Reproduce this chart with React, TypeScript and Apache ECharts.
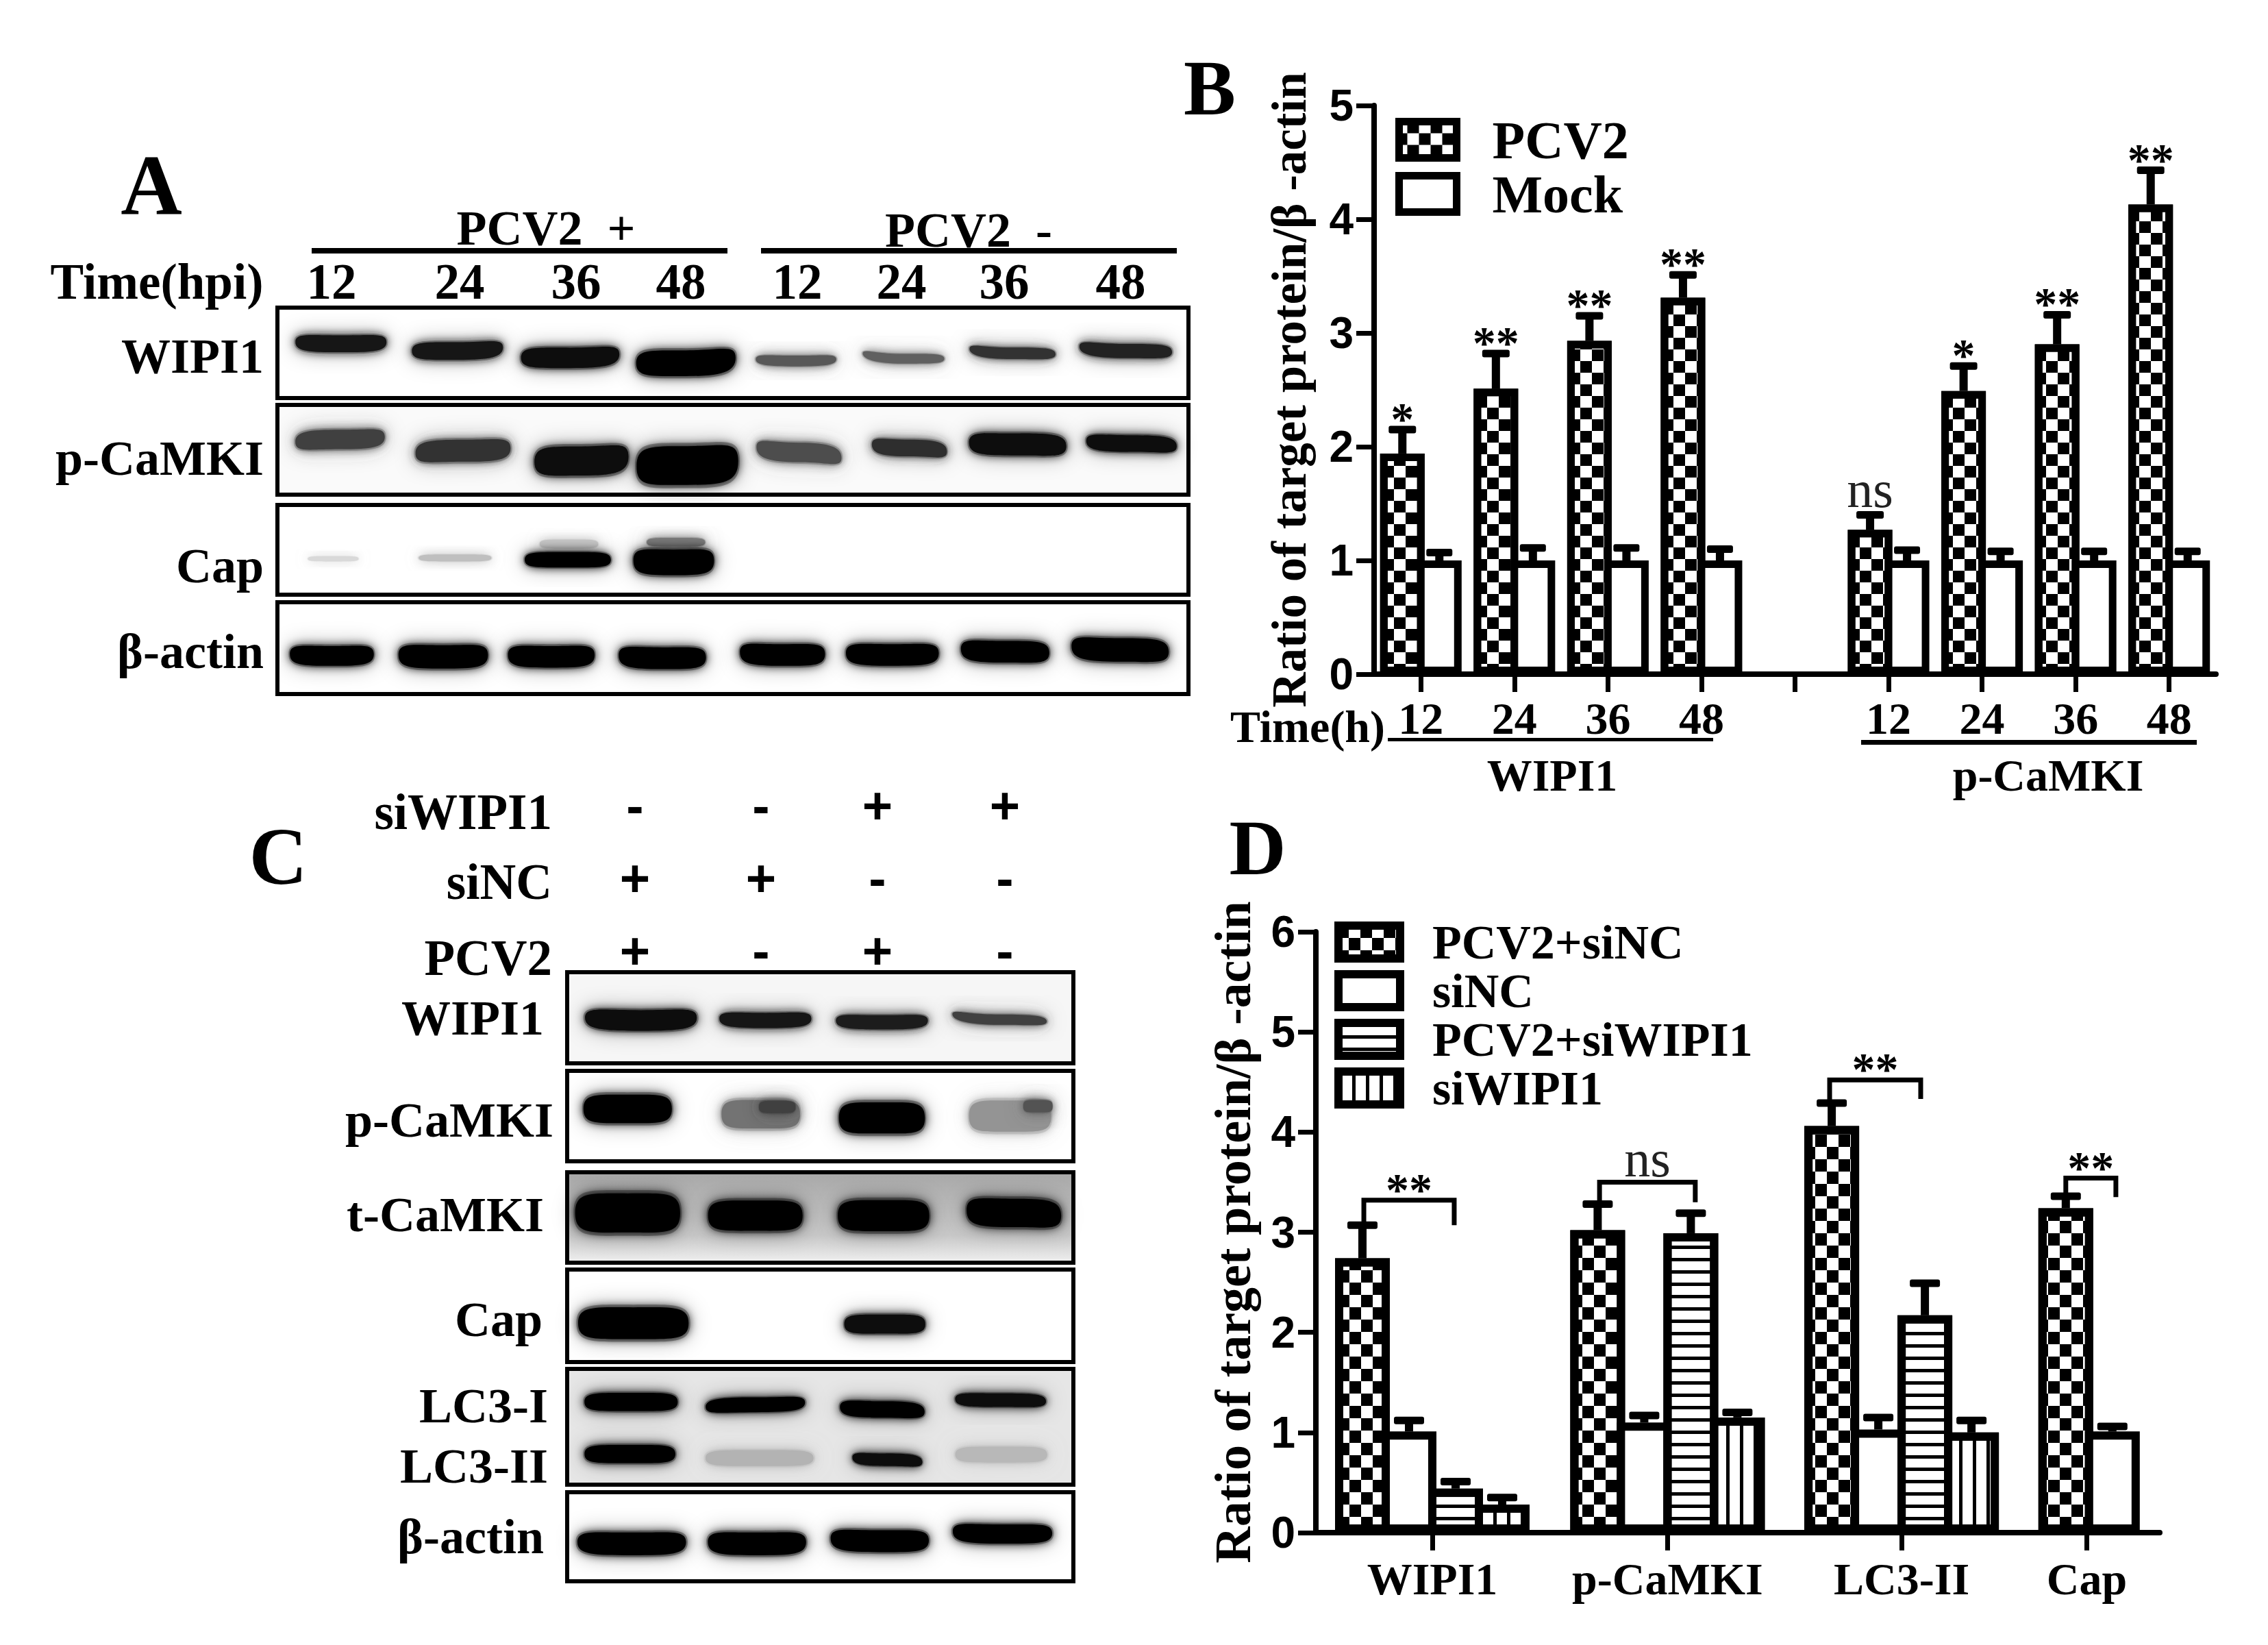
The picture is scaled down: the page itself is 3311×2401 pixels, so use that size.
import React, { useEffect, useRef } from "react";
import * as echarts from "echarts";

// ---------- Panel B data ----------
const bCats = ["12", "24", "36", "48", "", "12", "24", "36", "48"];
const bPcv2 = [1.94, 2.51, 2.93, 3.31, null, 1.27, 2.49, 2.9, 4.13];
const bPcv2Err = [2.15, 2.82, 3.15, 3.51, null, 1.4, 2.71, 3.16, 4.43];
const bMock = [1, 1, 1, 1, null, 1, 1, 1, 1];
const bMockErr = [1.07, 1.11, 1.11, 1.1, null, 1.09, 1.08, 1.08, 1.08];
const bMarks = ["*", "**", "**", "**", "", "ns", "*", "**", "**"];

// ---------- Panel D data ----------
const dCats = ["WIPI1", "p-CaMKI", "LC3-II", "Cap"];
const dPos = [0.5, 1.51, 2.515, 3.52];
const dTicks = [0.5, 1.51, 2.515, 3.31];
const dS1 = [2.74, 3.02, 4.06, 3.24];
const dS1Err = [3.07, 3.28, 4.29, 3.36];
const dS2 = [1.01, 1.1, 1.03, 1.01];
const dS2Err = [1.12, 1.17, 1.15, 1.06];
const dS3 = [0.44, 2.99, 2.17];
const dS3Err = [0.51, 3.19, 2.49];
const dS4 = [0.28, 1.15, 1.0];
const dS4Err = [0.35, 1.2, 1.12];
// x0, x1, top, left leg end, right leg end
const dBrackets = [
  [0.206, 0.594, 3.32, 3.09, 3.07],
  [1.218, 1.629, 3.5, 3.3, 3.3],
  [2.206, 2.597, 4.52, 4.28, 4.33],
  [3.22, 3.435, 3.54, 3.38, 3.35],
];
const dBracketMarks = ["**", "ns", "**", "**"];

// ---------- Western blot densitometry read-offs ----------
// lane centre, vertical centre (0-1), lane width, thickness (0-1), grey level (0 black), tilt, sag
const aWipi = [
  [0.558, 0.38, 0.825, 0.19, 0.08, 0, 0.02],
  [1.581, 0.46, 0.825, 0.2, 0.08, -0.02, 0.02],
  [2.571, 0.535, 0.89, 0.23, 0.06, -0.02, 0.02],
  [3.587, 0.585, 0.9, 0.29, 0.02, -0.03, 0.03],
  [4.554, 0.57, 0.73, 0.12, 0.35, 0, 0.02],
  [5.498, 0.535, 0.74, 0.11, 0.38, 0.03, 0.03],
  [6.455, 0.485, 0.78, 0.13, 0.2, 0.03, 0.02],
  [7.449, 0.46, 0.84, 0.16, 0.14, 0.03, 0.02],
];
const aCamki = [
  [0.55, 0.385, 0.81, 0.22, 0.25, -0.03, 0],
  [1.63, 0.51, 0.86, 0.25, 0.2, -0.03, 0],
  [2.67, 0.605, 0.85, 0.33, 0.03, -0.03, 0.02],
  [3.6, 0.655, 0.92, 0.44, 0, -0.03, 0.02],
  [4.58, 0.53, 0.77, 0.22, 0.3, 0.06, 0],
  [5.55, 0.48, 0.68, 0.19, 0.18, 0.04, 0],
  [6.5, 0.44, 0.88, 0.25, 0.03, 0.02, 0],
  [7.5, 0.43, 0.82, 0.19, 0.05, 0.03, 0],
];
const aCap = [
  [0.49, 0.6, 0.46, 0.06, 0.85, 0, 0],
  [1.56, 0.59, 0.66, 0.08, 0.75, 0, 0],
  [2.56, 0.435, 0.53, 0.1, 0.8, 0, 0],
  [3.5, 0.415, 0.53, 0.1, 0.5, 0, 0],
  [2.55, 0.61, 0.78, 0.175, 0.02, 0, 0],
  [3.48, 0.62, 0.73, 0.29, 0, 0, 0.02],
];
const aActin = [
  [0.478, 0.565, 0.76, 0.22, 0.01, 0, 0.02],
  [1.456, 0.575, 0.81, 0.26, 0.01, 0, 0.02],
  [2.405, 0.575, 0.785, 0.24, 0.01, 0, 0.02],
  [3.38, 0.59, 0.79, 0.24, 0.01, 0.01, 0.02],
  [4.435, 0.555, 0.77, 0.24, 0.01, 0.01, 0.02],
  [5.4, 0.555, 0.84, 0.24, 0.01, 0, 0.02],
  [6.39, 0.53, 0.8, 0.24, 0.01, 0.02, 0.01],
  [7.4, 0.51, 0.88, 0.26, 0.01, 0.03, 0.01],
];
const cWipi = [
  [0.583, 0.5, 0.91, 0.23, 0.03, 0, 0.03],
  [1.566, 0.51, 0.75, 0.17, 0.08, 0, 0.02],
  [2.487, 0.53, 0.75, 0.16, 0.1, 0, 0.02],
  [3.417, 0.5, 0.77, 0.115, 0.25, 0.04, 0.02],
];
const cCamki = [
  [0.478, 0.42, 0.72, 0.32, 0, 0, 0],
  [1.53, 0.48, 0.64, 0.32, 0.45, 0, 0],
  [1.66, 0.4, 0.3, 0.14, 0.25, 0, 0],
  [2.487, 0.52, 0.7, 0.35, 0.02, 0, 0],
  [3.5, 0.5, 0.67, 0.35, 0.58, 0, 0],
  [3.72, 0.39, 0.24, 0.14, 0.32, 0, 0],
];
const cTotal = [
  [0.478, 0.45, 0.855, 0.44, 0, 0, 0],
  [1.487, 0.48, 0.77, 0.34, 0, 0, 0],
  [2.5, 0.48, 0.745, 0.35, 0, 0, 0],
  [3.53, 0.45, 0.77, 0.32, 0, 0.03, 0],
];
const cCap = [
  [0.523, 0.58, 0.9, 0.35, 0, 0, 0],
  [2.51, 0.59, 0.66, 0.21, 0.04, 0, 0],
];
const cLc3 = [
  [0.505, 0.286, 0.76, 0.16, 0, 0, 0],
  [1.487, 0.31, 0.81, 0.13, 0, -0.02, 0],
  [2.49, 0.35, 0.69, 0.145, 0, 0.02, 0],
  [3.425, 0.27, 0.74, 0.12, 0.03, 0.01, 0],
  [0.496, 0.735, 0.74, 0.16, 0.02, 0, 0],
  [1.52, 0.77, 0.88, 0.14, 0.7, 0, 0],
  [2.53, 0.785, 0.57, 0.11, 0.05, 0.02, 0],
  [3.43, 0.74, 0.75, 0.14, 0.72, 0, 0],
];
const cActin = [
  [0.51, 0.56, 0.885, 0.26, 0, 0, 0.02],
  [1.5, 0.56, 0.8, 0.26, 0, 0, 0.02],
  [2.47, 0.53, 0.8, 0.25, 0, 0.01, 0.02],
  [3.44, 0.45, 0.81, 0.22, 0, 0.01, 0.02],
];

// ---------- text ----------
const aRowLabels = ["WIPI1", "p-CaMKI", "Cap", "β-actin"];
const aTimes = ["12", "24", "36", "48", "12", "24", "36", "48"];
const cRowLabels = ["WIPI1", "p-CaMKI", "t-CaMKI", "Cap", "LC3-I", "LC3-II", "β-actin"];
const cTreatments = ["siWIPI1", "siNC", "PCV2"];
const cSigns = [
  ["-", "-", "+", "+"],
  ["+", "+", "-", "-"],
  ["+", "-", "+", "-"],
];
const yName = "Ratio of target protein/β -actin";

const SERIF = '"Liberation Serif"';
const SANS = '"Liberation Sans"';

const base = { symbol: "rect", symbolSize: 1, color: "#000", backgroundColor: "#fff", rotation: 0 };
const checkerB = { ...base, dashArrayX: [[12, 17, 5, 0], [0, 12, 17, 5]], dashArrayY: [17, 0] };
const checkerD = { ...base, dashArrayX: [[0, 15, 17, 2], [15, 17, 2, 0]], dashArrayY: [18, 0] };
const hLines = { ...base, dashArrayX: [1, 0], dashArrayY: [5, 13] };
const vLines = { ...base, dashArrayX: [5, 15], dashArrayY: [1, 0] };

function bandSeries(data: number[][], xi: number) {
  return {
    type: "custom",
    xAxisIndex: xi,
    yAxisIndex: xi,
    silent: true,
    data,
    renderItem: (_p: any, api: any) => {
      const cx = api.value(0), cy = api.value(1), w = api.value(2), h = api.value(3);
      const g = api.value(4), tilt = api.value(5), sag = api.value(6);
      const shape = (gw: number, gh: number) => {
        const [x0] = api.coord([cx - (w * gw) / 2, cy]);
        const [x1, yb] = api.coord([cx + (w * gw) / 2, cy + (h * gh) / 2]);
        const [, yt] = api.coord([cx, cy - (h * gh) / 2]);
        const [, y1] = api.coord([cx, cy + tilt]);
        const [, y2] = api.coord([cx, cy - tilt]);
        const [, ys] = api.coord([cx, cy + (h * gh) / 2 + sag]);
        const [, yts] = api.coord([cx, cy - (h * gh) / 2 + sag]);
        const W = x1 - x0, H = yb - yt, xm = (x0 + x1) / 2;
        return `M${x0} ${y2}C${x0} ${y2 - H * 0.55} ${x0 + W * 0.14} ${yts} ${xm} ${yts}C${x1 - W * 0.14} ${yts} ${x1} ${y1 - H * 0.55} ${x1} ${y1}C${x1} ${y1 + H * 0.55} ${x1 - W * 0.14} ${ys} ${xm} ${ys}C${x0 + W * 0.14} ${ys} ${x0} ${y2 + H * 0.55} ${x0} ${y2}Z`;
      };
      const v = Math.round(g * 255);
      const col = `rgb(${v},${v},${v})`;
      return {
        type: "group",
        children: [
          { type: "path", shape: { pathData: shape(1.0, 1.15) }, style: { fill: col, opacity: 0.3, shadowBlur: 30, shadowColor: col } },
          { type: "path", shape: { pathData: shape(0.97, 0.98) }, style: { fill: col, shadowBlur: 14, shadowColor: col } },
        ],
      };
    },
  };
}

const errSeries = (xs: any[], tops: any[], bases: any[], off: number, cap: number, marks: string[] | null, xi: number) => ({
  type: "custom",
  xAxisIndex: xi,
  yAxisIndex: xi,
  silent: true,
  z: 5,
  data: tops
    .map((t, i) => [xs[i], bases[i], t, i])
    .filter((r) => r[2] != null),
  renderItem: (_p: any, api: any) => {
    const xv = api.value(0), bv = api.value(1), top = api.value(2), idx = api.value(3);
    const [x, y0] = api.coord([xv, bv]);
    const [, y1] = api.coord([xv, top]);
    const px = x + off;
    const kids: any[] = [
      { type: "rect", shape: { x: px - 6, y: y1, width: 12, height: y0 - y1 }, style: { fill: "#000" } },
      { type: "rect", shape: { x: px - cap / 2, y: y1 - 5.5, width: cap, height: 11, r: 3 }, style: { fill: "#000" } },
    ];
    const m = marks ? marks[idx] : "";
    if (m) {
      const ns = m === "ns";
      kids.push({
        type: "text",
        style: {
          text: m,
          x: px,
          y: ns ? y1 - 38 : y1 - 16,
          textAlign: "center",
          textVerticalAlign: "middle",
          fill: ns ? "#222" : "#000",
          font: ns ? `76px ${SERIF}` : `bold 68px ${SERIF}`,
        },
      });
    }
    return { type: "group", children: kids };
  },
});

function App() {
  const ref = useRef<HTMLDivElement>(null);
  useEffect(() => {
    document.body.style.margin = "0";
    document.body.style.background = "#fff";
    const chart = echarts.init(ref.current!, null, { renderer: "svg" });

    const BAR = { borderColor: "#000", borderWidth: 11, color: "#fff" };
    const BARD = { borderColor: "#000", borderWidth: 12, color: "#fff" };
    const grids: any[] = [
      { left: 2006, top: 154, width: 1229, height: 830, show: false },
      { left: 1921, top: 1360, width: 1232, height: 877, show: false },
    ];
    const axisLine = { show: true, onZero: false, lineStyle: { color: "#000", width: 8 } };
    const tick = { show: true, length: 26, lineStyle: { color: "#000", width: 7 } };
    const xAxes: any[] = [
      {
        gridIndex: 0,
        type: "category",
        data: bCats,
        axisLine,
        axisTick: { ...tick, alignWithLabel: true, interval: 0 },
        axisLabel: { interval: 0, margin: 31, color: "#000", fontFamily: SERIF, fontWeight: "bold", fontSize: 66 },
      },
      {
        gridIndex: 1,
        type: "value",
        min: 0,
        max: 3.6235,
        splitLine: { show: false },
        axisLine,
        axisTick: { ...tick, customValues: dTicks },
        axisLabel: {
          customValues: dTicks,
          margin: 34,
          color: "#000",
          fontFamily: SERIF,
          fontWeight: "bold",
          fontSize: 66,
          formatter: (v: number) => dCats[dTicks.indexOf(Number(v))] ?? "",
        },
      },
    ];
    const yAxis = (g: number, max: number, fs: number, gap: number) => ({
      gridIndex: g,
      type: "value",
      min: 0,
      max,
      interval: 1,
      name: yName,
      nameLocation: "middle",
      nameRotate: 90,
      nameGap: gap,
      nameMoveOverlap: false,
      nameTextStyle: { fontFamily: SERIF, fontWeight: "bold", fontSize: fs, color: "#000" },
      splitLine: { show: false },
      axisLine,
      axisTick: tick,
      axisLabel: { margin: 30, color: "#000", fontFamily: SANS, fontWeight: "bold", fontSize: 64 },
    });
    const yAxes: any[] = [yAxis(0, 5, 71, 89), yAxis(1, 6, 74, 84)];
    const bIdx = bCats.map((_, i) => i);
    const bBar = { type: "bar", xAxisIndex: 0, yAxisIndex: 0, barWidth: 65, barGap: "-16.9%" };
    const dBar = { type: "bar", xAxisIndex: 1, yAxisIndex: 1, barWidth: 80, barGap: "-15%" };
    const series: any[] = [
      { ...bBar, name: "PCV2", data: bPcv2, itemStyle: { ...BAR, decal: checkerB } },
      { ...bBar, name: "Mock", data: bMock, itemStyle: BAR },
      errSeries(bIdx, bPcv2Err, bPcv2, -27, 40, bMarks, 0),
      errSeries(bIdx, bMockErr, bMock, 27, 38, null, 0),
      { ...dBar, name: "PCV2+siNC", data: dS1.map((v, i) => [dPos[i], v]), itemStyle: { ...BARD, decal: checkerD } },
      { ...dBar, name: "siNC", data: dS2.map((v, i) => [dPos[i], v]), itemStyle: BARD },
      { ...dBar, name: "PCV2+siWIPI1", data: dS3.map((v, i) => [dPos[i], v]), itemStyle: { ...BARD, decal: hLines } },
      { ...dBar, name: "siWIPI1", data: dS4.map((v, i) => [dPos[i], v]), itemStyle: { ...BARD, decal: vLines } },
      errSeries(dPos, dS1Err, dS1, -102, 44, null, 1),
      errSeries(dPos, dS2Err, dS2, -34, 44, null, 1),
      errSeries(dPos.slice(0, 3), dS3Err, dS3, 34, 44, null, 1),
      errSeries(dPos.slice(0, 3), dS4Err, dS4, 102, 44, null, 1),
      {
        type: "custom",
        xAxisIndex: 1,
        yAxisIndex: 1,
        silent: true,
        z: 6,
        data: dBrackets.map((b, i) => [...b, i]),
        renderItem: (_p: any, api: any) => {
          const [x0, yt] = api.coord([api.value(0), api.value(2)]);
          const [x1] = api.coord([api.value(1), api.value(2)]);
          const [, yl] = api.coord([api.value(0), api.value(3)]);
          const [, yr] = api.coord([api.value(1), api.value(4)]);
          const label = dBracketMarks[api.value(5)];
          const ns = label === "ns";
          return {
            type: "group",
            children: [
              { type: "polyline", shape: { points: [[x0, yl], [x0, yt], [x1, yt], [x1, yr]] }, style: { stroke: "#000", lineWidth: 7, fill: "none" } },
              {
                type: "text",
                style: {
                  text: label,
                  x: (x0 + x1) / 2,
                  y: ns ? yt - 34 : yt - 16,
                  textAlign: "center",
                  textVerticalAlign: "middle",
                  fill: ns ? "#222" : "#000",
                  font: ns ? `76px ${SERIF}` : `bold 68px ${SERIF}`,
                },
              },
            ],
          };
        },
      },
    ];

    const totalBg = {
      type: "linear", x: 0, y: 0, x2: 0, y2: 1,
      colorStops: [
        { offset: 0, color: "#a8a8a8" },
        { offset: 0.7, color: "#c8c8c8" },
        { offset: 1, color: "#f0f0f0" },
      ],
    };
    // blot panels: x in lanes, y in fraction of the panel height
    const panels: [number[], number, number[][], any][] = [
      [[405, 449, 1330, 132], 8, aWipi, "#fff"],
      [[405, 591, 1330, 131], 8, aCamki, "#fafafa"],
      [[405, 737, 1330, 131], 8, aCap, "#fff"],
      [[405, 879, 1330, 134], 8, aActin, "#fff"],
      [[828, 1419, 739, 133], 4, cWipi, "#f6f6f6"],
      [[828, 1563, 739, 132], 4, cCamki, "#fff"],
      [[828, 1711, 739, 132], 4, cTotal, totalBg],
      [[828, 1853, 739, 135], 4, cCap, "#fff"],
      [[828, 1998, 739, 169], 4, cLc3, "#e6e6e6"],
      [[828, 2178, 739, 130], 4, cActin, "#fff"],
    ];
    panels.forEach(([r, lanes, data, bg]) => {
      const gi = grids.length;
      grids.push({ left: r[0], top: r[1], width: r[2], height: r[3], show: true, borderColor: "#000", borderWidth: 6, backgroundColor: bg, z: 1 });
      xAxes.push({ gridIndex: gi, type: "value", min: 0, max: lanes, show: false });
      yAxes.push({ gridIndex: gi, type: "value", min: 0, max: 1, inverse: true, show: false });
      series.push(bandSeries(data, gi));
    });

    const T = (text: string, x: number, y: number, size: number, align = "center", family = SERIF) => ({
      type: "text",
      x,
      y,
      silent: true,
      style: { text, font: `bold ${size}px ${family}`, fill: "#000", textAlign: align, textVerticalAlign: "middle" },
    });
    const line = (x: number, y: number, w: number, h: number) => ({ type: "rect", silent: true, shape: { x, y, width: w, height: h }, style: { fill: "#000" } });
    const aTimeX = [484, 671, 841, 994, 1164, 1316, 1466, 1636];
    const aRowY = [520, 669, 826, 951];
    const cRowY = [1486, 1635, 1773, 1926, 2052, 2140, 2243];
    const cRowX = [794, 808, 794, 792, 800, 800, 794];
    const cHeadY = [1185, 1287, 1398];
    const cSignX = [927, 1111, 1281, 1467];
    const cSignY = [1175, 1281, 1387];
    const graphic: any[] = [
      T("A", 221, 270, 124),
      T("B", 1766, 128, 114),
      T("C", 406, 1250, 118),
      T("D", 1836, 1237, 115),
      T("PCV2  +", 797, 333, 72),
      T("PCV2  -", 1414, 336, 72),
      line(455, 362, 607, 8),
      line(1111, 362, 607, 8),
      T("Time(hpi)", 229, 411, 73),
      ...aTimes.map((t, i) => T(t, aTimeX[i], 411, 73)),
      ...aRowLabels.map((t, i) => T(t, 385, aRowY[i], 72, "right")),
      ...cRowLabels.map((t, i) => T(t, cRowX[i], cRowY[i], 72, "right")),
      ...cTreatments.map((t, i) => T(t, 806, cHeadY[i], 73, "right")),
      ...cSigns.flatMap((row, r) => row.map((s, c) => T(s, cSignX[c], cSignY[r], 76, "center", SANS))),
      T("Time(h)", 1909, 1060, 66),
      line(2026, 1077, 475, 5),
      line(2717, 1080, 490, 7),
      T("WIPI1", 2266, 1131, 66),
      T("p-CaMKI", 2990, 1131, 66),
    ];

    chart.setOption({
      animation: false,
      backgroundColor: "#fff",
      grid: grids,
      xAxis: xAxes,
      yAxis: yAxes,
      legend: [
        {
          left: 2037,
          top: 165,
          padding: 0,
          orient: "vertical",
          data: ["PCV2", "Mock"],
          selectedMode: false,
          itemWidth: 84,
          itemHeight: 53,
          itemGap: 1,
          icon: "rect",
          itemStyle: { borderColor: "#000", borderWidth: 11 },
          textStyle: { fontFamily: SERIF, fontWeight: "bold", fontSize: 78, color: "#000", padding: [0, 0, 0, 47] },
        },
        {
          left: 1948,
          top: 1340,
          padding: 0,
          orient: "vertical",
          data: ["PCV2+siNC", "siNC", "PCV2+siWIPI1", "siWIPI1"],
          selectedMode: false,
          itemWidth: 90,
          itemHeight: 48,
          itemGap: 1,
          icon: "rect",
          itemStyle: { borderColor: "#000", borderWidth: 12 },
          textStyle: { fontFamily: SERIF, fontWeight: "bold", fontSize: 70, color: "#000", padding: [0, 0, 0, 42] },
        },
      ],
      series,
      graphic,
    });
    return () => chart.dispose();
  }, []);
  return <div ref={ref} style={{ width: 3311, height: 2401 }} />;
}

export default App;
